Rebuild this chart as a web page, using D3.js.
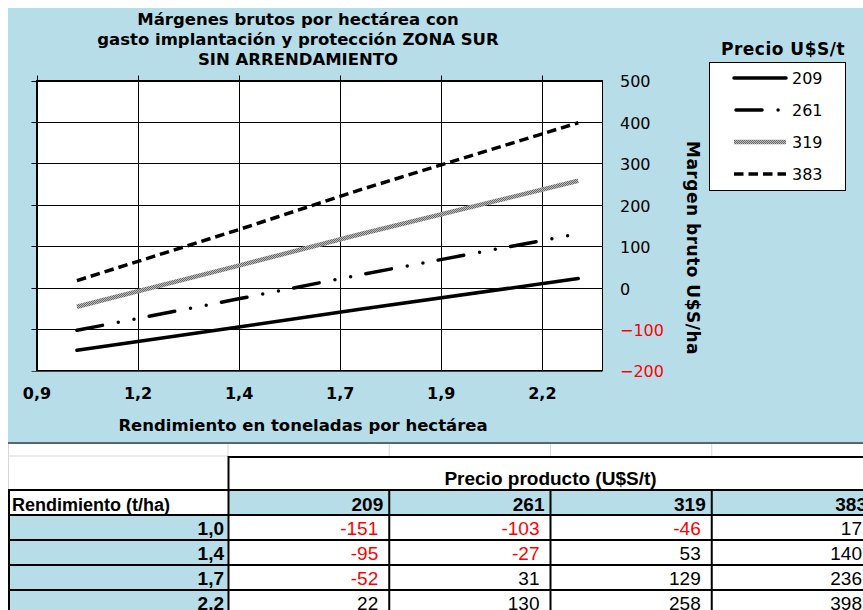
<!DOCTYPE html>
<html>
<head>
<meta charset="utf-8">
<script src="https://cdn.jsdelivr.net/npm/d3@7"></script>
<style>
  body { margin: 0; background: #fff; }
  svg { display: block; }
</style>
</head>
<body>
<svg id="chart" width="863" height="610"></svg>
<script>
const rendimiento = [1.0, 1.4, 1.7, 2.24];
const rendLabels = ["1,0", "1,4", "1,7", "2,2"];
const precios = [209, 261, 319, 383];
const margen209 = [-151, -95, -52, 22];
const margen261 = [-103, -27, 31, 130];
const margen319 = [-46, 53, 129, 258];
const margen383 = [17, 140, 236, 398];
const xTicks = [0.9, 1.15, 1.4, 1.65, 1.9, 2.15];
const xTickLabels = ["0,9", "1,2", "1,4", "1,7", "1,9", "2,2"];
const yTicks = [-200, -100, 0, 100, 200, 300, 400, 500];
const titulo = ["Márgenes brutos por hectárea con", "gasto implantación y protección ZONA SUR", "SIN ARRENDAMIENTO"];

const series = [
  { precio: 209, values: margen209, stroke: "#000", dash: null, cap: "round" },
  { precio: 261, values: margen261, stroke: "#000", dash: "26,16.1,0,16,0,15.5", cap: "round" },
  { precio: 319, values: margen319, stroke: "url(#checker)", dash: null, cap: "butt" },
  { precio: 383, values: margen383, stroke: "#000", dash: "9.5,5", cap: "butt" }
];

const BLUE = "#b7dde8";
const VFONT = "'DejaVu Sans', Verdana, sans-serif";
const TFONT = "'Liberation Sans', Arial, sans-serif";

const svg = d3.select("#chart");

const defs = svg.append("defs");
const pat = defs.append("pattern")
  .attr("id", "checker")
  .attr("patternUnits", "userSpaceOnUse")
  .attr("width", 2).attr("height", 2);
pat.append("rect").attr("width", 2).attr("height", 2).attr("fill", "#bdbdbd");
pat.append("rect").attr("width", 1).attr("height", 1).attr("fill", "#666");
pat.append("rect").attr("x", 1).attr("y", 1).attr("width", 1).attr("height", 1).attr("fill", "#666");

// fondo del area del grafico
svg.append("rect")
  .attr("x", 8).attr("y", 8)
  .attr("width", 855).attr("height", 434)
  .attr("fill", BLUE);
svg.append("line")
  .attr("x1", 8).attr("x2", 863).attr("y1", 443).attr("y2", 443)
  .attr("stroke", "#56676e").attr("stroke-width", 2);

const plot = { left: 36.5, right: 602.5, top: 80.5, bottom: 370.5 };

const x = d3.scaleLinear().domain([0.9, 2.3]).range([plot.left, plot.right]);
const y = d3.scaleLinear().domain([-200, 500]).range([plot.bottom, plot.top]);

svg.append("rect")
  .attr("x", plot.left).attr("y", plot.top)
  .attr("width", plot.right - plot.left).attr("height", plot.bottom - plot.top)
  .attr("fill", "#fff");

// grilla vertical (con marcas arriba)
svg.append("g").selectAll("line")
  .data(xTicks)
  .join("line")
  .attr("x1", d => Math.round(x(d)) + 0.5)
  .attr("x2", d => Math.round(x(d)) + 0.5)
  .attr("y1", plot.top - 5)
  .attr("y2", plot.bottom)
  .attr("stroke", "#000");

// grilla horizontal (con marcas a la izquierda)
svg.append("g").selectAll("line")
  .data(yTicks)
  .join("line")
  .attr("x1", plot.left - 5)
  .attr("x2", plot.right)
  .attr("y1", d => Math.round(y(d)) + 0.5)
  .attr("y2", d => Math.round(y(d)) + 0.5)
  .attr("stroke", d => d === -200 ? "#444" : "#000");

svg.append("rect")
  .attr("x", plot.left).attr("y", plot.top)
  .attr("width", plot.right - plot.left).attr("height", plot.bottom - plot.top)
  .attr("fill", "none").attr("stroke", "#000");

// etiquetas eje x
const xAxis = svg.append("g")
  .attr("transform", `translate(0,${plot.bottom})`)
  .call(d3.axisBottom(x).tickValues(xTicks).tickFormat((d, i) => xTickLabels[i]).tickSize(0).tickPadding(17));
xAxis.select(".domain").remove();
xAxis.selectAll("text")
  .style("font-family", VFONT).style("font-size", "16px").style("font-weight", "bold").attr("fill", "#000");

// etiquetas eje y (a la derecha)
const yAxis = svg.append("g")
  .attr("transform", "translate(620,0)")
  .call(d3.axisRight(y).tickValues(yTicks).tickFormat(d3.format("d")).tickSize(0).tickPadding(0));
yAxis.select(".domain").remove();
yAxis.selectAll("text")
  .attr("dy", "0.4em")
  .style("font-family", VFONT).style("font-size", "16px")
  .attr("fill", d => d < 0 ? "#ff0000" : "#000");

// lineas
const line = d3.line()
  .x(d => x(d[0]))
  .y(d => y(d[1]));

svg.append("g").selectAll("path")
  .data(series)
  .join("path")
  .attr("d", s => line(rendimiento.map((r, i) => [r, s.values[i]])))
  .attr("fill", "none")
  .attr("stroke", s => s.stroke)
  .attr("stroke-width", s => s.precio === 319 ? 4.5 : 3.5)
  .attr("stroke-dasharray", s => s.dash)
  .attr("stroke-linecap", s => s.cap);

// titulos
svg.append("text")
  .attr("x", 298)
  .attr("y", 25)
  .attr("text-anchor", "middle")
  .style("font-family", VFONT).style("font-size", "16.5px").style("font-weight", "bold")
  .selectAll("tspan")
  .data(titulo)
  .join("tspan")
  .attr("x", 298)
  .attr("dy", (d, i) => i === 0 ? 0 : 20)
  .text(d => d);

svg.append("text")
  .attr("x", 303)
  .attr("y", 431)
  .attr("text-anchor", "middle")
  .style("font-family", VFONT).style("font-size", "16.5px").style("font-weight", "bold")
  .text("Rendimiento en toneladas por hectárea");

svg.append("text")
  .attr("transform", "translate(687,248) rotate(90)")
  .attr("text-anchor", "middle")
  .style("font-family", VFONT).style("font-size", "17px").style("font-weight", "bold")
  .style("letter-spacing", "0.5px")
  .text("Margen bruto U$S/ha");

// leyenda
svg.append("text")
  .attr("x", 783).attr("y", 55)
  .attr("text-anchor", "middle")
  .style("font-family", VFONT).style("font-size", "17px").style("font-weight", "bold")
  .style("letter-spacing", "0.5px")
  .text("Precio U$S/t");

svg.append("rect")
  .attr("x", 709.5).attr("y", 62.5)
  .attr("width", 136).attr("height", 128)
  .attr("fill", "#fff").attr("stroke", "#000");

const legendY = d3.scalePoint().domain(precios).range([78, 174]);
const leg = svg.append("g").selectAll("g")
  .data(series)
  .join("g")
  .attr("transform", s => `translate(0,${legendY(s.precio)})`);
leg.append("path")
  .attr("d", s => s.precio === 261 ? "M736,0H786" : "M734,0H786")
  .attr("fill", "none")
  .attr("stroke", s => s.stroke)
  .attr("stroke-width", s => s.precio === 319 ? 4.5 : 3.5)
  .attr("stroke-dasharray", s => s.dash)
  .attr("stroke-linecap", s => s.cap);
leg.append("text")
  .attr("x", 792).attr("y", 6)
  .style("font-family", VFONT).style("font-size", "16px")
  .text(s => s.precio);

// ---------- tabla ----------
const tabla = svg.append("g");
const colX = d3.scaleBand().domain(precios).range([228, 873]);
const rowY = d3.scaleBand().domain(rendLabels).range([515, 615]);
const headTop = 490, headBottom = 515, precioTop = 456;

// lineas grises de la hoja
const gris = "#d9d9d9";
tabla.selectAll("line.cell")
  .data([228, ...precios.map(p => colX(p) + colX.bandwidth())])
  .join("line")
  .attr("class", "cell")
  .attr("x1", d => d).attr("x2", d => d)
  .attr("y1", 444).attr("y2", precioTop)
  .attr("stroke", gris);
tabla.append("line").attr("x1", 8).attr("x2", 228).attr("y1", precioTop).attr("y2", precioTop).attr("stroke", gris);
tabla.append("line").attr("x1", 8.5).attr("x2", 8.5).attr("y1", 444).attr("y2", headTop).attr("stroke", gris);

// celdas azules
tabla.selectAll("rect.ph")
  .data(precios)
  .join("rect")
  .attr("class", "ph")
  .attr("x", d => colX(d)).attr("y", headTop)
  .attr("width", colX.bandwidth()).attr("height", headBottom - headTop)
  .attr("fill", BLUE);
tabla.selectAll("rect.rh")
  .data(rendLabels)
  .join("rect")
  .attr("class", "rh")
  .attr("x", 8).attr("y", d => rowY(d))
  .attr("width", 220).attr("height", rowY.bandwidth())
  .attr("fill", BLUE);

// bordes negros
const hLines = [headTop, headBottom, ...rendLabels.map(r => rowY(r) + rowY.bandwidth())];
tabla.selectAll("line.h")
  .data(hLines)
  .join("line")
  .attr("class", "h")
  .attr("x1", 8).attr("x2", 873)
  .attr("y1", d => d).attr("y2", d => d)
  .attr("stroke", "#000").attr("stroke-width", 2);
tabla.append("line")
  .attr("x1", 228).attr("x2", 873).attr("y1", precioTop + 1).attr("y2", precioTop + 1)
  .attr("stroke", "#000").attr("stroke-width", 2);
tabla.append("line")
  .attr("x1", 228.5).attr("x2", 228.5).attr("y1", precioTop).attr("y2", 615)
  .attr("stroke", "#000").attr("stroke-width", 2);
tabla.append("line")
  .attr("x1", 9).attr("x2", 9).attr("y1", headTop).attr("y2", 615)
  .attr("stroke", "#000").attr("stroke-width", 2);
tabla.selectAll("line.v")
  .data(precios)
  .join("line")
  .attr("class", "v")
  .attr("x1", d => colX(d) + colX.bandwidth()).attr("x2", d => colX(d) + colX.bandwidth())
  .attr("y1", headTop).attr("y2", 615)
  .attr("stroke", "#000").attr("stroke-width", 2);

// textos de la tabla
tabla.append("text")
  .attr("x", (228 + 873) / 2).attr("y", 485)
  .attr("text-anchor", "middle")
  .style("font-family", TFONT).style("font-size", "19px").style("font-weight", "bold")
  .text("Precio producto (U$S/t)");
tabla.append("text")
  .attr("x", 12).attr("y", 511)
  .style("font-family", TFONT).style("font-size", "18px").style("font-weight", "bold")
  .text("Rendimiento (t/ha)");
tabla.selectAll("text.ph")
  .data(precios)
  .join("text")
  .attr("class", "ph")
  .attr("x", d => colX(d) + colX.bandwidth() - 6).attr("y", 511)
  .attr("text-anchor", "end")
  .style("font-family", TFONT).style("font-size", "19px").style("font-weight", "bold")
  .text(d => d);
tabla.selectAll("text.rh")
  .data(rendLabels)
  .join("text")
  .attr("class", "rh")
  .attr("x", 224).attr("y", d => rowY(d) + 20)
  .attr("text-anchor", "end")
  .style("font-family", TFONT).style("font-size", "19px").style("font-weight", "bold")
  .text(d => d);

const celdas = [];
series.forEach(s => s.values.forEach((v, i) => celdas.push({ precio: s.precio, rend: rendLabels[i], v })));
tabla.selectAll("text.val")
  .data(celdas)
  .join("text")
  .attr("class", "val")
  .attr("x", d => colX(d.precio) + colX.bandwidth() - 11)
  .attr("y", d => rowY(d.rend) + 20)
  .attr("text-anchor", "end")
  .style("font-family", TFONT).style("font-size", "19px")
  .attr("fill", d => d.v < 0 ? "#ff0000" : "#000")
  .text(d => d.v);
</script>
</body>
</html>
